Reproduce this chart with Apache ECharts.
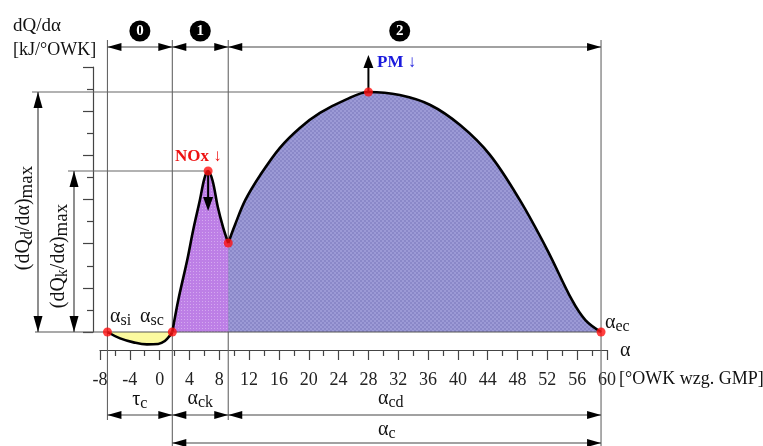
<!DOCTYPE html>
<html><head><meta charset="utf-8">
<script src="https://cdn.jsdelivr.net/npm/echarts@6/dist/echarts.min.js"></script>
<style>html,body{margin:0;padding:0;background:#fff}#c{width:763px;height:446px}</style>
</head><body><div id="c"></div>
<script>
// Heat release rate dQ/dα against crank angle α, split into combustion phases 0, 1 and 2.
const xMin = -8, xMax = 60, xStep = 4;
const yMin = 0, yMax = 12, yStep = 2;

// phase 0: ignition delay (slight heat absorption below the baseline)
const ignitionPhase = [[-7,0],[-5.3,-0.29],[-3.5,-0.47],[-1.7,-0.56],[-0.2,-0.54],[0.7,-0.41],[1.4,-0.15],[1.7,0]];
// phase 1: kinetic (premixed) combustion
const kineticPhase = [[1.7,0],[2.5,1.45],[3.7,3.26],[4.5,4.62],[5.4,5.98],[6.0,6.95],[6.5,7.29],[7.1,6.85],[7.8,5.66],[8.5,4.75],[9.2,4.03]];
// phase 2: diffusion combustion
const diffusionPhase = [[9.2,4.03],[10.1,4.85],[11.5,5.98],[13.5,7.11],[16.1,8.33],[18.8,9.24],[21.5,9.92],[24.9,10.51],[28,10.87],[32.2,10.73],[36.3,10.28],[40.3,9.37],[44.3,8.02],[48.3,5.98],[52,3.71],[55.3,1.45],[57.1,0.54],[59.2,0]];

const peakOf = arr => arr.reduce((a, b) => (b[1] > a[1] ? b : a));
const first = arr => arr[0], last = arr => arr[arr.length - 1];
const pSi = first(ignitionPhase), pSc = last(ignitionPhase);
const pNox = peakOf(kineticPhase), pCk = first(diffusionPhase);
const pPm = peakOf(diffusionPhase), pEc = last(diffusionPhase);
const keyPoints = [pSi, pSc, pNox, pCk, pPm, pEc];

const FONT = '"Liberation Serif", "Times New Roman", serif';
const mctx = document.createElement('canvas').getContext('2d');
function tw(s, size, weight) { mctx.font = (weight || 'normal') + ' ' + size + 'px ' + FONT; return mctx.measureText(s).width; }

function pattern(w, h, bg, fg, cells) {
  const c = document.createElement('canvas'); c.width = w; c.height = h;
  const g = c.getContext('2d'); g.fillStyle = bg; g.fillRect(0, 0, w, h);
  g.fillStyle = fg; cells.forEach(r => g.fillRect(r[0], r[1], r[2], r[3]));
  return { image: c, repeat: 'repeat' };
}
const blueFill = pattern(4, 4, '#9c9ad6', '#8a88c8', [[0,0,2,2],[2,2,2,2]]);
const violetFill = pattern(3, 3, '#bd7fe6', '#d4a8f0', [[1,1,1,1]]);

const curveLine = { color: '#000', width: 2.6 };
const tickStyle = { color: '#444', width: 1.2 };
const chart = echarts.init(document.getElementById('c'), null, { renderer: 'canvas' });

chart.setOption({
  animation: false,
  backgroundColor: '#fff',
  grid: { left: 100, right: 156, top: 67, bottom: 114 },
  xAxis: {
    type: 'value', min: xMin, max: xMax, interval: xStep, offset: 18,
    axisLine: { onZero: false, lineStyle: tickStyle },
    axisTick: { length: 10, lineStyle: tickStyle },
    minorTick: { show: true, splitNumber: 2, length: 6, lineStyle: tickStyle },
    axisLabel: { fontFamily: FONT, fontSize: 18, color: '#222', margin: 21 },
    splitLine: { show: false }
  },
  yAxis: {
    type: 'value', min: yMin, max: yMax, interval: yStep, offset: 7,
    axisLine: { show: true, onZero: false, lineStyle: tickStyle },
    axisTick: { show: true, length: 10, lineStyle: tickStyle },
    minorTick: { show: true, splitNumber: 2, length: 6, lineStyle: tickStyle },
    axisLabel: { show: false },
    splitLine: { show: false }
  },
  series: [
    { type: 'line', data: diffusionPhase, smooth: 0.35, symbol: 'none', clip: false, z: 3,
      lineStyle: curveLine, areaStyle: { color: blueFill, opacity: 1 } },
    { type: 'line', data: kineticPhase, smooth: 0.35, symbol: 'none', clip: false, z: 3,
      lineStyle: curveLine, areaStyle: { color: violetFill, opacity: 1 } },
    { type: 'line', data: ignitionPhase, smooth: 0.4, symbol: 'none', clip: false, z: 3,
      lineStyle: curveLine, areaStyle: { color: '#fbfa9f', opacity: 1 } },
    { type: 'scatter', data: keyPoints, symbolSize: 9, z: 20,
      itemStyle: { color: '#ff1010' } }
  ]
});

const P = p => chart.convertToPixel({ gridIndex: 0 }, p);
const G = [];
const GUIDE = '#666', DIM = '#444';

function line(x1, y1, x2, y2, stroke, w, z) {
  G.push({ type: 'line', z: z == null ? 1 : z, shape: { x1, y1, x2, y2 }, style: { stroke, lineWidth: w || 1 } });
}
// arrow head with its tip at (x, y) pointing in direction d
function head(x, y, d, len, hw) {
  len = len || 14; hw = hw || 4;
  let pts;
  if (d === 'l') pts = [[x, y], [x + len, y - hw], [x + len, y + hw]];
  if (d === 'r') pts = [[x, y], [x - len, y - hw], [x - len, y + hw]];
  if (d === 'u') pts = [[x, y], [x - hw, y + len], [x + hw, y + len]];
  if (d === 'd') pts = [[x, y], [x - hw, y - len], [x + hw, y - len]];
  G.push({ type: 'polygon', z: 12, shape: { points: pts }, style: { fill: '#000' } });
}
function dimH(x1, x2, y) { line(x1, y, x2, y, DIM, 1.2, 11); head(x1, y, 'l'); head(x2, y, 'r'); }
function dimV(x, y1, y2) { line(x, y1, x, y2, DIM, 1.2, 11); head(x, y1, 'u', 16, 4.5); head(x, y2, 'd', 16, 4.5); }

// text made of runs: [text, size, dy, weight]
function runs(parts, color, align) {
  const widths = parts.map(p => tw(p[0], p[1], p[3]));
  const total = widths.reduce((a, b) => a + b, 0);
  let x = align === 'left' ? 0 : -total / 2;
  return parts.map((p, i) => {
    const el = { type: 'text', x: x, y: p[2] || 0,
      style: { text: p[0], font: (p[3] || 'normal') + ' ' + p[1] + 'px ' + FONT, fill: color || '#111',
        textAlign: 'left', align: 'left', textVerticalAlign: 'middle', verticalAlign: 'middle' } };
    x += widths[i];
    return el;
  });
}
function label(x, y, parts, opt) {
  opt = opt || {};
  G.push({ type: 'group', x, y, rotation: opt.rotation || 0, z: 15,
    children: runs(parts, opt.color, opt.align) });
}
const A = 20, S = 16, SD = 4;

const [xSi, y0] = P(pSi);
const xSc = P(pSc)[0], xCk = P(pCk)[0], xEc = P(pEc)[0];
const [xNox, yNox] = P(pNox);
const [xPm, yPm] = P(pPm);

// extension lines of the phase boundaries
const yTopDim = 47, yBotDim = 415, yAc = 443;
line(xSi, 40, xSi, 420, GUIDE, 1.1);
line(xSc, 40, xSc, 446, GUIDE, 1.1);
line(xCk, 40, xCk, 420, GUIDE, 1.1);
line(xEc, 40, xEc, 446, GUIDE, 1.1);
// baseline and peak reference lines
line(35, y0, xEc, y0, '#555', 1.2, 11);
line(32, yPm, xPm, yPm, GUIDE, 1.1);
line(68, yNox, xNox, yNox, GUIDE, 1.1);

// phase dimensions at the top
dimH(xSi, xSc, yTopDim); dimH(xSc, xCk, yTopDim); dimH(xCk, xEc, yTopDim);
// durations at the bottom
dimH(xSi, xSc, yBotDim); dimH(xSc, xCk, yBotDim); dimH(xCk, xEc, yBotDim);
dimH(xSc, xEc, yAc);
// maximum rates on the left
dimV(38, yPm, y0);
dimV(74, yNox, y0);

// phase numbers
const phaseMarks = [[(xSi + xSc) / 2, '0'], [(xSc + xCk) / 2, '1'], [P([32.2, 0])[0], '2']];
phaseMarks.forEach(([cx, t]) => {
  G.push({ type: 'circle', z: 14, shape: { cx, cy: 31, r: 10.5 }, style: { fill: '#000' } });
  G.push({ type: 'text', z: 15, x: cx, y: 31.5, style: { text: t, font: 'bold 15px ' + FONT, fill: '#fff',
    textAlign: 'center', align: 'center', textVerticalAlign: 'middle', verticalAlign: 'middle' } });
});

// emission arrows
line(xPm, yPm, xPm, 66, '#000', 2, 12); head(xPm, 55, 'u', 13, 5);
line(xNox, yNox, xNox, 198, '#000', 2, 12); head(xNox, 211, 'd', 14, 5);
label(175, 157, [['NOx ↓', 17, 0, 'bold']], { color: '#ee1111', align: 'left' });
label(377, 63, [['PM ↓', 17, 0, 'bold']], { color: '#1a1add', align: 'left' });

// axis titles
label(13, 26, [['dQ/dα', 19]], { align: 'left' });
label(13, 50, [['[kJ/°OWK]', 18]], { align: 'left' });
label(620, 351, [['α', A]], { align: 'left' });
label(619, 379, [['[°OWK wzg. GMP]', 18]], { align: 'left' });

// point labels
label(110, 317, [['α', A], ['si', S, SD]], { align: 'left' });
label(140, 317, [['α', A], ['sc', S, SD]], { align: 'left' });
label(xEc + 4, 323, [['α', A], ['ec', S, SD]], { align: 'left' });

// duration labels
label((xSi + xSc) / 2, 400, [['τ', A], ['c', S, SD]]);
label((xSc + xCk) / 2, 399, [['α', A], ['ck', S, SD]]);
label(378, 399, [['α', A], ['cd', S, SD]], { align: 'left' });
label(378, 430, [['α', A], ['c', S, SD]], { align: 'left' });

// rotated labels of the maximum rates
label(24, 218, [['(dQ', A], ['d', S, SD], ['/dα)', A], ['max', 19, 3]], { rotation: Math.PI / 2 });
label(59, 256, [['(dQ', A], ['k', S, SD], ['/dα)', A], ['max', 19, 3]], { rotation: Math.PI / 2 });

chart.setOption({ graphic: { elements: G } });
</script></body></html>
